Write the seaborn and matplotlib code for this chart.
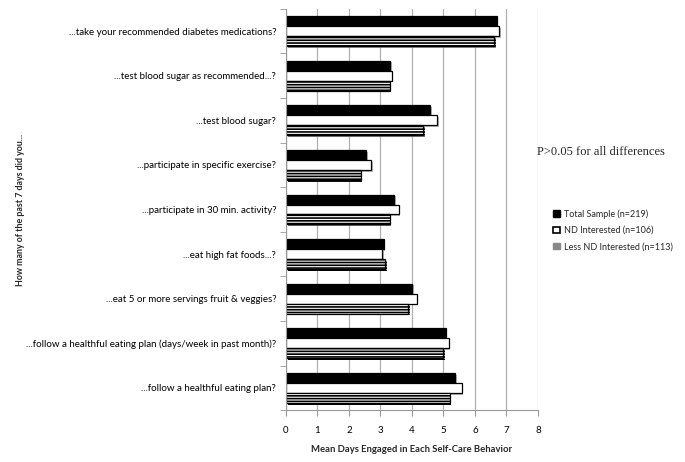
import pandas as pd
import matplotlib.pyplot as plt
import matplotlib.patches as mpatches
import matplotlib.patheffects as pe
import seaborn as sns

behaviors = [
    "...take your recommended diabetes medications?",
    "...test blood sugar as recommended...?",
    "...test blood sugar?",
    "...participate in specific exercise?",
    "...participate in 30 min. activity?",
    "...eat high fat foods...?",
    "...eat 5 or more servings fruit & veggies?",
    "...follow a healthful eating plan (days/week in past month)?",
    "...follow a healthful eating plan?",
]
groups = ["Total Sample (n=219)", "ND Interested (n=106)", "Less ND Interested (n=113)"]
total = [6.69, 3.31, 4.57, 2.54, 3.43, 3.10, 4.00, 5.07, 5.37]
nd_int = [6.77, 3.35, 4.79, 2.70, 3.58, 3.06, 4.15, 5.16, 5.58]
less_nd = [6.60, 3.29, 4.36, 2.37, 3.29, 3.14, 3.88, 5.00, 5.20]

df = pd.DataFrame({
    "behavior": behaviors * 3,
    "group": [groups[0]] * 9 + [groups[1]] * 9 + [groups[2]] * 9,
    "days": total + nd_int + less_nd,
})

sns.set_style("white")
plt.rcParams['font.family'] = ['Lato', 'DejaVu Sans']
plt.rcParams['hatch.linewidth'] = 1.2

fig = plt.figure(figsize=(6.85, 4.62), dpi=100)
ax = fig.add_axes([0.4175, 0.112, 0.3679, 0.869])

sns.barplot(data=df, y="behavior", x="days", hue="group", hue_order=groups,
            order=behaviors, orient="h", width=0.67, ax=ax, legend=False,
            palette=["black", "white", "white"])

shadow = [pe.SimplePatchShadow(offset=(1.2, -1.2), shadow_rgbFace="#999999", alpha=0.7), pe.Normal()]
styles = [("black", None), ("white", None), ("white", "------")]
for cont, (fc, hatch) in zip(ax.containers, styles):
    for bar in cont:
        bar.set_facecolor(fc)
        bar.set_edgecolor("black")
        bar.set_linewidth(0.9)
        if hatch:
            bar.set_hatch(hatch)
        bar.set_path_effects(shadow)

ax.set_xlim(0, 8)
ax.set_ylim(8.5, -0.5)
ax.set_xticks(range(9))
ax.xaxis.grid(True, color="#b0b0b0", linewidth=0.9)
ax.set_axisbelow(True)
for s in ["top", "right"]:
    ax.spines[s].set_visible(False)
ax.spines["left"].set_color("#999999")
ax.spines["bottom"].set_color("#999999")

ax.set_yticks([i + 0.5 for i in range(-1, 9)], minor=True)
ax.tick_params(axis="y", which="major", length=0, labelsize=7, pad=7, colors="black")
ax.tick_params(axis="y", which="minor", length=4, color="#999999", direction="out", left=True)
ax.tick_params(axis="x", which="major", length=4, color="#999999", direction="out",
               bottom=True, labelsize=7, pad=7, colors="black")

ax.set_xlabel("Mean Days Engaged in Each Self-Care Behavior", fontsize=6.8, fontweight="bold", labelpad=7.5)
ax.set_ylabel("")
fig.text(0.03, 0.545, "How many of the past 7 days did you...", rotation=90,
         fontsize=6.4, fontweight="bold", ha="center", va="center")

fig.text(0.784, 0.67, "P>0.05 for all differences", fontsize=9,
         family=["Liberation Serif", "DejaVu Serif"], va="center")

handles = [
    mpatches.Patch(facecolor="black", edgecolor="black"),
    mpatches.Patch(facecolor="white", edgecolor="black", linewidth=1.2),
    mpatches.Patch(facecolor="#888888", edgecolor="#888888"),
]
fig.legend(handles, groups, loc="upper left", bbox_to_anchor=(0.802, 0.555),
           frameon=False, fontsize=6.5, handlelength=0.75, handleheight=0.75,
           handletextpad=0.5, labelspacing=0.8, borderaxespad=0)

fig.savefig("out.png", dpi=100)
